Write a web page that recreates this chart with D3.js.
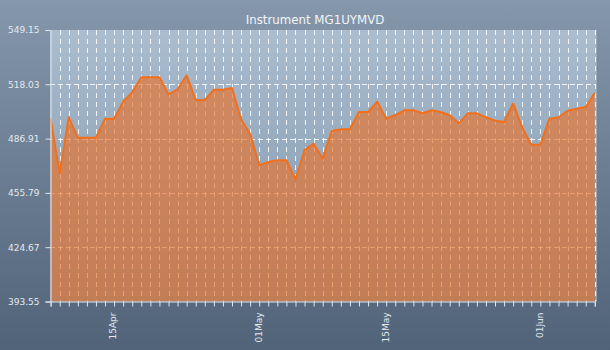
<!DOCTYPE html>
<html>
<head>
<meta charset="utf-8">
<script src="https://cdn.jsdelivr.net/npm/d3@7"></script>
<style>
  html, body { margin: 0; padding: 0; background: #5b6e84; }
  svg { display: block; }
  text { font-family: "DejaVu Sans", sans-serif; }
</style>
</head>
<body>
<script>
const title = "Instrument MG1UYMVD";
const startDate = "2013-04-08";
const values = [
  498.55, 467.02, 499.12, 487.43, 487.43, 487.43, 498.32, 498.32, 508.06, 513.45,
  522.04, 522.04, 522.04, 512.30, 515.17, 523.19, 509.03, 509.03, 514.94, 514.94,
  515.91, 497.97, 489.55, 471.61, 473.50, 474.48, 474.48, 463.59, 480.38, 483.99,
  475.39, 491.44, 492.24, 492.24, 502.16, 502.16, 508.06, 498.32, 500.44, 503.13,
  503.13, 501.41, 503.13, 502.16, 500.26, 495.68, 501.41, 501.41, 499.12, 497.17,
  496.42, 507.14, 493.16, 483.42, 483.42, 498.32, 499.12, 502.90, 504.05, 505.02,
  513.22
];
const yTicks = [393.55, 424.67, 455.79, 486.91, 518.03, 549.15];
const xLabelDates = ["2013-04-15", "2013-05-01", "2013-05-15", "2013-06-01"];

const W = 610, H = 350;
const parse = d3.timeParse("%Y-%m-%d");
const t0 = parse(startDate);
const dates = values.map((v, i) => d3.timeDay.offset(t0, i));
const data = values.map((v, i) => ({ date: dates[i], value: v }));

const svg = d3.select("body").append("svg").attr("width", W).attr("height", H);
const defs = svg.append("defs");
const bgGrad = defs.append("linearGradient").attr("id", "bg").attr("x1", 0).attr("y1", 0).attr("x2", 0).attr("y2", 1);
bgGrad.append("stop").attr("offset", "0%").attr("stop-color", "#8597ab");
bgGrad.append("stop").attr("offset", "100%").attr("stop-color", "#506378");
const plotGrad = defs.append("linearGradient").attr("id", "plotbg").attr("x1", 0).attr("y1", 0).attr("x2", 0).attr("y2", 1);
plotGrad.append("stop").attr("offset", "0%").attr("stop-color", "#abbdcf");
plotGrad.append("stop").attr("offset", "100%").attr("stop-color", "#7d94ab");

svg.append("rect").attr("width", W).attr("height", H).attr("fill", "url(#bg)");

const pLeft = 50, pRight = 596, pTop = 30, pBottom = 301.5;
const x = d3.scaleTime().domain(d3.extent(dates)).range([50.6, 594.8]);
const y = d3.scaleLinear().domain([yTicks[0], yTicks[yTicks.length - 1]]).range([pBottom, pTop]);

svg.append("rect").attr("x", pLeft).attr("y", pTop).attr("width", pRight - pLeft).attr("height", pBottom - pTop)
  .attr("fill", "url(#plotbg)");

// grid
const grid = svg.append("g").attr("stroke", "rgba(255,255,255,0.85)").attr("stroke-width", 1);
grid.selectAll("line.v").data(dates.slice(1)).join("line").attr("class", "v")
  .attr("x1", d => Math.round(x(d)) + 0.5).attr("x2", d => Math.round(x(d)) + 0.5)
  .attr("y1", pTop).attr("y2", pBottom).attr("stroke-dasharray", "5,4");
grid.selectAll("line.h").data(yTicks.slice(1, -1)).join("line").attr("class", "h")
  .attr("x1", pLeft).attr("x2", pRight)
  .attr("y1", d => Math.round(y(d)) + 0.5).attr("y2", d => Math.round(y(d)) + 0.5)
  .attr("stroke-dasharray", "5,3");

// area + line
const area = d3.area().x(d => x(d.date)).y0(pBottom).y1(d => y(d.value));
const line = d3.line().x(d => x(d.date)).y(d => y(d.value));
svg.append("path").datum(data).attr("d", area).attr("fill", "rgb(232,114,42)").attr("fill-opacity", 0.66);
svg.append("path").datum(data).attr("d", line).attr("fill", "none").attr("stroke", "#f2701c").attr("stroke-width", 2).attr("stroke-linejoin", "round");

// right border
svg.append("line").attr("x1", pRight + 0.5).attr("x2", pRight + 0.5).attr("y1", pTop).attr("y2", pBottom)
  .attr("stroke", "#9aa8b6").attr("stroke-width", 1);

// axes
const yAxis = d3.axisLeft(y).tickValues(yTicks).tickSize(5).tickPadding(6).tickFormat(d3.format(".2f"));
const gy = svg.append("g").attr("transform", `translate(${pLeft + 0.5},0)`).call(yAxis);
gy.select(".domain").attr("stroke", "#dfe6ee");
gy.selectAll(".tick line").attr("stroke", "#dfe6ee");
gy.selectAll(".tick text").attr("fill", "#e4eaf0").attr("font-size", 9).attr("font-family", "DejaVu Sans");

const labelSet = new Set(xLabelDates);
const fmtKey = d3.timeFormat("%Y-%m-%d");
const xAxis = d3.axisBottom(x).tickValues(dates).tickSize(5)
  .tickFormat(d => labelSet.has(fmtKey(d)) ? d3.timeFormat("%d%b")(d) : "");
const gx = svg.append("g").attr("transform", `translate(0,${Math.round(pBottom) - 0.5})`).call(xAxis);
gx.select(".domain").attr("stroke", "#dfe6ee");
gx.selectAll(".tick line").attr("stroke", "#dfe6ee");
gx.selectAll(".tick text").attr("fill", "#e4eaf0").attr("font-size", 9).attr("font-family", "DejaVu Sans")
  .attr("text-anchor", "end").attr("transform", "rotate(-90)")
  .attr("x", -11).attr("y", 0).attr("dy", "0.2em");

svg.append("text").attr("x", 315).attr("y", 24).attr("text-anchor", "middle")
  .attr("fill", "#f2f5f8").attr("font-size", 11.8).text(title);
</script>
</body>
</html>
